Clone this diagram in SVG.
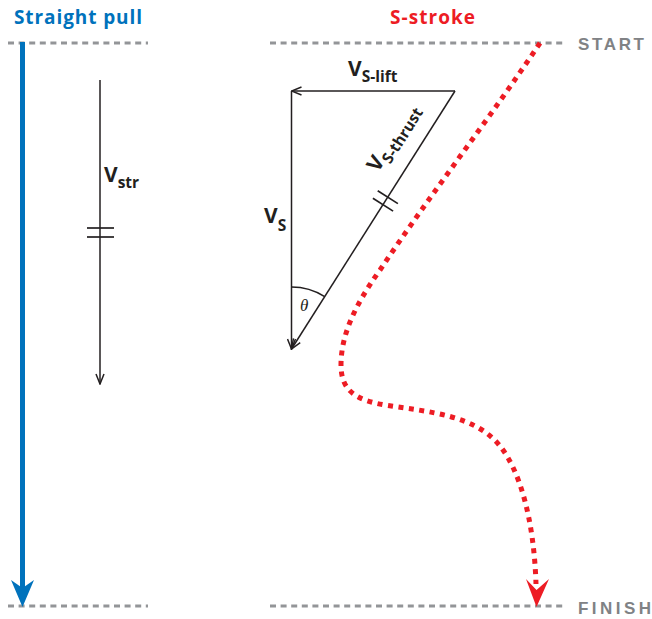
<svg xmlns="http://www.w3.org/2000/svg" width="652" height="619" viewBox="0 0 652 619">
  <style>
    .title { font-family: "Open Sans", "Liberation Sans", sans-serif; font-weight: 700; font-size: 19px; }
    .mark { font-family: "Liberation Sans", Arial, sans-serif; font-weight: 700; font-size: 17px; fill: #808285; }
    .lbl { font-family: "Open Sans", "Liberation Sans", sans-serif; font-weight: 700; font-size: 21px; fill: #231f20; }
    .sub { font-size: 15.5px; }
    .dash { stroke: #939598; stroke-width: 3; stroke-dasharray: 6 4.6; fill: none; }
    .vec { stroke: #231f20; stroke-width: 1.5; fill: none; }
    .tick { stroke: #231f20; stroke-width: 1.7; fill: none; }
    .red { stroke: #ed1c24; stroke-width: 5; stroke-dasharray: 5 5.5; fill: none; }
  </style>
  <defs>
    <marker id="open" viewBox="0 0 12 10" markerWidth="12" markerHeight="10" refX="11" refY="5" orient="auto" markerUnits="userSpaceOnUse">
      <path d="M1,1 L11,5 L1,9" fill="none" stroke="#231f20" stroke-width="1.5"/>
    </marker>
  </defs>
  <rect width="652" height="619" fill="#ffffff"/>

  <g id="title-straight"><text class="title" x="14" y="24" fill="#0072bc" textLength="128">Straight pull</text></g>
  <g id="title-sstroke"><text class="title" x="390" y="24" fill="#ed1c24" textLength="85">S-stroke</text></g>

  <g id="start-line">
    <line class="dash" x1="8" y1="43" x2="148" y2="43"/>
    <line class="dash" x1="270" y1="43" x2="566" y2="43"/>
    <text class="mark" x="578" y="50" textLength="66">START</text>
  </g>
  <g id="finish-line">
    <line class="dash" x1="8" y1="606" x2="148" y2="606"/>
    <line class="dash" x1="270" y1="606" x2="566" y2="606"/>
    <text class="mark" x="578" y="614" textLength="73">FINISH</text>
  </g>

  <g id="straight-pull-path">
    <line x1="22.5" y1="42" x2="22.5" y2="590" stroke="#0072bc" stroke-width="5"/>
    <polygon points="22.5,607 11,580 22.5,588 34,580" fill="#0072bc"/>
  </g>

  <g id="s-stroke-path">
    <path class="red" d="M540,43 C490,118 430,195 380,270 C355,305 341,335 341,365 C341,390 355,400 385,405 C430,412 475,415 500,446 C520,471 534,520 536,584"/>
    <polygon points="536.5,607 526,579 536.5,590 549,579" fill="#ed1c24"/>
  </g>

  <g id="v-str">
    <text class="lbl" x="104" y="182">V<tspan class="sub" dy="6">str</tspan></text>
    <line class="tick" x1="87" y1="228" x2="114" y2="228"/>
    <line class="tick" x1="87" y1="237" x2="114" y2="237"/>
  </g>

  <g id="v-s">
    <text class="lbl" x="264" y="223">V<tspan class="sub" dy="8">S</tspan></text>
  </g>
  <g id="v-s-lift">
    <text class="lbl" x="348" y="76">V<tspan class="sub" dy="6">S-lift</tspan></text>
  </g>
  <g id="v-s-thrust">
    <text class="lbl" transform="translate(378,173) rotate(-57.7)">V<tspan class="sub" dy="6">S-thrust</tspan></text>
    <line class="tick" x1="377.7" y1="190.8" x2="397.9" y2="203.6"/>
    <line class="tick" x1="372.9" y1="198.3" x2="393.1" y2="211.1"/>
  </g>
  <g id="theta">
    <path class="vec" d="M291.5,287 A62,62 0 0 1 324.7,296.6"/>
    <text x="300" y="311" font-family="Liberation Serif, serif" font-style="italic" font-size="17" fill="#231f20">θ</text>
  </g>

  <g id="connectors">
    <line class="vec" x1="100" y1="80" x2="100" y2="384" marker-end="url(#open)"/>
    <line class="vec" x1="455" y1="91" x2="291.5" y2="91" marker-end="url(#open)"/>
    <line class="vec" x1="291.5" y1="91" x2="291.5" y2="349" marker-end="url(#open)"/>
    <line class="vec" x1="455" y1="91" x2="291.5" y2="349" marker-end="url(#open)"/>
  </g>
</svg>
